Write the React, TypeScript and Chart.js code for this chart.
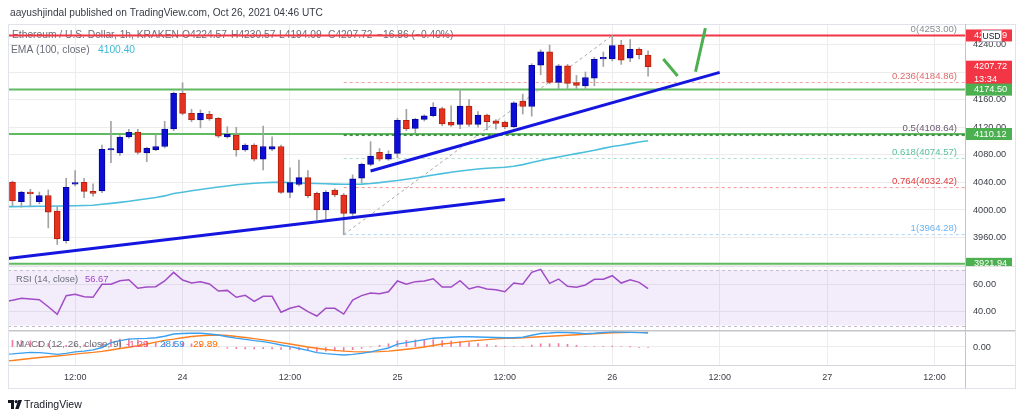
import React, { useEffect, useRef } from "react";
import { Chart, registerables } from "chart.js";

Chart.register(...registerables);

const FONT = "'Liberation Sans', Arial, Helvetica, sans-serif";
Chart.defaults.font.family = FONT;

// ---------- time axis (hours after 2021-10-23 00:00 UTC) ----------
const FIRST_CANDLE_HOUR = 5;
const FIRST_INDICATOR_HOUR = 4;
const X_MIN = 4.5;
const X_MAX = 111.4;
const TIME_TICK_STEP = 12;

// ---------- ETH/USD 1h candles ----------
const opens = [
  4040.6, 4012, 4026, 4012, 4021, 3998.5, 3955.5, 4037.5, 4040, 4027,
  4027.5, 4087, 4082.6, 4105.8, 4113, 4082.6, 4087.4, 4092, 4117.4, 4169,
  4140, 4130.4, 4138.7, 4133, 4106, 4108.7, 4087, 4094, 4073.5, 4088,
  4092, 4025.6, 4037, 4047, 4024, 4000, 4029, 4021.7, 3995, 4046,
  4066, 4083.6, 4073.5, 4082, 4130, 4118.4, 4131.4, 4136.6, 4147, 4127,
  4124, 4150.7, 4124, 4137.6, 4129.4, 4127.5, 4120.7, 4158, 4150, 4210,
  4229.4, 4185, 4209, 4184.6, 4180, 4191, 4219, 4219, 4239, 4220,
  4233, 4224.57,
];
const highs = [
  4042, 4027, 4030, 4026, 4029, 4005, 4046, 4057, 4046, 4038,
  4094, 4128.5, 4108, 4117, 4117, 4091, 4109, 4128.5, 4171, 4184.5,
  4146, 4145, 4143, 4134, 4120.7, 4120, 4096, 4096, 4121.7, 4106,
  4094, 4061, 4072.5, 4057, 4026, 4028, 4031, 4024, 4051, 4068,
  4099, 4089, 4086, 4133, 4146, 4133, 4138, 4155.5, 4149, 4151,
  4175, 4160, 4142.5, 4139, 4131, 4129, 4157, 4168, 4212, 4232,
  4239, 4211, 4211, 4195, 4200, 4221, 4229, 4253, 4246, 4247,
  4235, 4230.57,
];
const lows = [
  4006, 4004, 4006, 4009, 3974, 3950, 3952, 4035, 4018, 4020,
  4025, 4068.5, 4079, 4104, 4081, 4070, 4086, 4090, 4115, 4138,
  4128, 4119, 4130, 4105, 4104, 4078, 4085, 4071, 4058, 4086,
  4024, 4018, 4035, 4018, 3985.5, 3985.5, 4019, 3964.28, 3992, 4039,
  4064, 4071, 4072, 4076, 4115, 4112, 4129, 4135, 4122, 4121,
  4118, 4121, 4120, 4116, 4117, 4118, 4119, 4139, 4136, 4196,
  4183, 4176, 4175, 4176, 4175, 4180, 4208, 4216, 4211, 4215,
  4219, 4194.09,
];
const closes = [
  4013, 4026, 4023.6, 4021, 3997, 3958, 4033, 4038, 4027, 4024,
  4088, 4088, 4105.8, 4112.6, 4083.6, 4089.4, 4092, 4117.4, 4169, 4140,
  4130.4, 4140, 4131.9, 4107, 4109.7, 4087, 4094, 4073.5, 4092, 4092,
  4025.6, 4039.6, 4047, 4020.7, 4000, 4025.6, 4021.7, 3995, 4045, 4066,
  4078, 4073.5, 4081, 4130, 4117.4, 4131.4, 4136.6, 4148.8, 4124.6, 4123,
  4150.7, 4124, 4137.6, 4128, 4125.6, 4120.7, 4155.5, 4150, 4209.7, 4229.4,
  4185, 4209, 4183.6, 4180.4, 4192, 4218.4, 4219.5, 4238.4, 4217, 4233,
  4225, 4207.72,
];

// ---------- indicators (start one hour before first candle) ----------
const ema100 = [
  4004.7, 4004.9, 4005.1, 4005.2, 4005.4, 4005.5, 4005.7, 4005.8, 4006.1, 4006.4,
  4006.8, 4008.3, 4009.6, 4011, 4012.6, 4014.5, 4016.2, 4018, 4020.4, 4023.8,
  4025.8, 4027.8, 4029.7, 4031.6, 4033.3, 4034.8, 4036.5, 4037.7, 4038.7, 4039.4,
  4040, 4040.1, 4039.7, 4039.1, 4038.7, 4038.3, 4038, 4037.5, 4037.2, 4037.2,
  4037.5, 4038.4, 4039.6, 4041.4, 4042.7, 4044.5, 4046.4, 4048.5, 4050.7, 4052.7,
  4054.6, 4056.4, 4058, 4059.4, 4060.4, 4061.3, 4062, 4063.5, 4065.8, 4068.7,
  4071.6, 4074.5, 4076.9, 4079.4, 4081.7, 4084, 4086.5, 4089.3, 4092, 4093.9,
  4096.2, 4098.5, 4100.4,
];
const rsi14 = [
  47.2, 48.2, 49.7, 49.2, 48.7, 43.6, 38.1, 51.6, 52.6, 50.8,
  50.4, 59.8, 59.8, 62.4, 63.1, 56.9, 57.8, 58.1, 62.2, 68.4,
  62.9, 60.7, 61.7, 60, 54.9, 55.4, 50.4, 51.8, 47.5, 51.1,
  51.1, 39.6, 42.5, 44.1, 40, 36.9, 42.5, 42.5, 38.3, 48.4,
  51.6, 53.5, 53, 54.4, 62.2, 59.8, 61.7, 62.2, 63.8, 57.8,
  57.8, 62.4, 56.4, 58.1, 56.4, 55.9, 54.4, 60.7, 59.8, 68.4,
  70.6, 60.5, 63.6, 58.3, 57.6, 59.3, 63.4, 63.4, 66, 60.7,
  63.1, 61.2, 56.67,
];
const macdLine = [
  -15, -14, -12.5, -11, -11.5, -13, -15, -13, -10, -8.5,
  -6, -1, 9, 13, 16, 17, 17.5, 19, 22, 26.5,
  27.5, 28, 28, 26.5, 24.5, 21, 18, 15.5, 13, 11,
  8, 4, 0.8, -3, -7, -11.5, -13.5, -15, -16.3, -15,
  -13, -10, -6, -2, 6, 9, 12, 15, 18, 19,
  20, 21, 21, 20.5, 20, 19.5, 19, 19, 20, 24,
  27.5, 28.5, 30, 29.5, 28.5, 27, 28, 29.5, 31, 30.5,
  30, 29.3, 28.59,
];
const macdSignal = [
  -28.5, -27.5, -25.5, -23.5, -21.5, -20, -18.5, -16.5, -14.5, -12.5,
  -11, -9, -6, -3, -0.5, 2.5, 6, 10, 13.5, 16,
  19, 21.5, 23, 24, 24.5, 23.5, 21.5, 19.5, 17, 14.5,
  12, 9, 6, 3, 0, -2.5, -5, -7, -8.5, -9.5,
  -10, -10, -9.5, -8.5, -6.5, -4.5, -2.5, 0, 3, 6,
  8, 10, 12, 13.5, 15, 16.5, 17.5, 18, 19, 20,
  21, 22, 23, 24, 25, 26, 27, 28, 29, 29.5,
  29.8, 29.9, 29.89,
];
const macdHistogram = [
  13.5, 13.5, 13, 12.5, 10, 7, 3.5, 3.5, 4.5, 4,
  5, 8, 15, 16, 16.5, 14.5, 11.5, 9, 8.5, 10.5,
  8.5, 6.5, 5, 2.5, 0, -2.5, -3.5, -4, -4, -3.5,
  -4, -5, -5.2, -6, -7, -9, -8.5, -8, -7.8, -5.5,
  -3, 0, 3.5, 6.5, 12.5, 13.5, 14.5, 15, 15, 13,
  12, 11, 9, 7, 5, 3, 1.5, 1, 1, 4,
  6.5, 6.5, 7, 5.5, 3.5, 1, 1, 1.5, 2, 1,
  0.2, -0.6, -1.29,
];

// ---------- drawings ----------
const fibRatios = ["0", "0.236", "0.5", "0.618", "0.764", "1"];
const fibPrices = [4253.0, 4184.86, 4108.64, 4074.57, 4032.42, 3964.28];
const fibLineColors = ["#b0b3bb", "#f4a3a3", "#3f8f43", "#a9dfd0", "#f39191", "#a9d3f7"];
const fibTextColors = ["#8a8d96", "#e06b6b", "#6a5870", "#5cc09a", "#e23b3b", "#6db3ee"];
const FIB_START_HOUR = 42;
const FIB_END_HOUR = 72;

const greenLevels = [4174.5, 4110.12, 3921.94];
const redLevel = 4252.99;

const supportLowHours = [4.5, 60];
const supportLowPrices = [3929.7, 4015.2];
const supportHighHours = [45, 84];
const supportHighPrices = [4056.5, 4199.5];
const arrowDownHours = [77.7, 79.3];
const arrowDownPrices = [4218.8, 4194.2];
const arrowUpHours = [81.3, 82.4];
const arrowUpPrices = [4200.4, 4263.7];

const LAST_PRICE = 4207.72;
const COUNTDOWN = "13:34";

// ---------- pane value ranges ----------
const MAIN_MIN = 3918.8;
const MAIN_MAX = 4269.6;
const RSI_MIN = 26.8;
const RSI_MAX = 73;
const MACD_MIN = -38.8;
const MACD_MAX = 34.7;

// ---------- layout ----------
const W = 1024;
const PLOT_L = 8;
const PLOT_R = 965;
const AXIS_W = 50;
const FRAME_R = 1015;

const UP = "#0d0dd8";
const UP_BORDER = "#05059a";
const DOWN = "#e5321f";
const DOWN_BORDER = "#b5200f";
const GRID = "#ececec";
const AXIS_TEXT = "#3a3d46";

function timeLabel(v: number) {
  if (v % 24 === 12) return "12:00";
  return String(23 + v / 24);
}

function xScale(show: boolean) {
  return {
    type: "linear",
    min: X_MIN,
    max: X_MAX,
    offset: false,
    grid: { color: GRID, drawTicks: false, offset: false },
    border: { display: false },
    ticks: {
      display: show,
      stepSize: TIME_TICK_STEP,
      includeBounds: false,
      autoSkip: false,
      maxRotation: 0,
      padding: 6,
      color: AXIS_TEXT,
      font: { size: 9 },
      callback: (v: any) => timeLabel(Number(v)),
    },
    afterFit: (s: any) => {
      s.height = show ? 22 : 0;
      s.paddingLeft = 0;
      s.paddingRight = 0;
    },
  };
}

function yScale(min: number, max: number, step: number) {
  return {
    type: "linear",
    position: "right",
    min,
    max,
    beginAtZero: false,
    grid: { color: GRID, drawTicks: false },
    border: { display: false },
    ticks: {
      stepSize: step,
      includeBounds: false,
      padding: 8,
      color: AXIS_TEXT,
      font: { size: 9.2 },
      callback: (v: any) => Number(v).toFixed(2),
    },
    afterFit: (s: any) => {
      s.width = AXIS_W;
      s.paddingTop = 0;
      s.paddingBottom = 0;
    },
  };
}

function baseOptions(top: number, bottom: number, showX: boolean, y: any) {
  return {
    responsive: false,
    maintainAspectRatio: false,
    animation: false,
    events: [],
    layout: { padding: { left: PLOT_L, right: W - PLOT_R - AXIS_W, top, bottom } },
    plugins: { legend: { display: false }, tooltip: { enabled: false } },
    scales: { x: xScale(showX), y },
  };
}

function seg(hours: number[], values: number[], color: string, width: number, dash: number[], order: number) {
  return {
    type: "line",
    data: hours.map((h, i) => ({ x: h, y: values[i] })),
    borderColor: color,
    borderWidth: width,
    borderDash: dash,
    pointRadius: 0,
    fill: false,
    tension: 0,
    order,
  };
}

function txt(ctx: CanvasRenderingContext2D, s: string, x: number, y: number, color: string, size: number, align: CanvasTextAlign = "left") {
  ctx.font = `${size}px ${FONT}`;
  ctx.fillStyle = color;
  ctx.textAlign = align;
  ctx.textBaseline = "middle";
  ctx.fillText(s, x, y);
  return ctx.measureText(s).width;
}

function fitSize(ctx: CanvasRenderingContext2D, s: string, width: number) {
  ctx.font = `10px ${FONT}`;
  return (10 * width) / ctx.measureText(s).width;
}

function hline(ctx: CanvasRenderingContext2D, x1: number, x2: number, y: number, color: string, w = 1) {
  ctx.strokeStyle = color;
  ctx.lineWidth = w;
  ctx.setLineDash([]);
  ctx.beginPath();
  ctx.moveTo(x1, y);
  ctx.lineTo(x2, y);
  ctx.stroke();
}
function vline(ctx: CanvasRenderingContext2D, x: number, y1: number, y2: number, color: string, w = 1) {
  ctx.strokeStyle = color;
  ctx.lineWidth = w;
  ctx.setLineDash([]);
  ctx.beginPath();
  ctx.moveTo(x, y1);
  ctx.lineTo(x, y2);
  ctx.stroke();
}

function priceBox(ctx: CanvasRenderingContext2D, y: number, bg: string, lines: string[]) {
  const h = lines.length === 1 ? 12 : 25;
  const top = lines.length === 1 ? y - 6 : y - 6;
  ctx.fillStyle = bg;
  ctx.fillRect(966, top, 46, h);
  lines.forEach((l, i) => txt(ctx, l, 974, top + 6 + i * 12.5, "#ffffff", 9.2));
}

const FRAME = "#e0e3eb";
const SEP = "#c2c4cb";

const mainOverlay = {
  id: "mainOverlay",
  beforeDatasetsDraw(chart: any) {
    const ctx = chart.ctx as CanvasRenderingContext2D;
    ctx.save();
    const title = "Ethereum / U.S. Dollar, 1h, KRAKEN";
    const size = fitSize(ctx, title, 167);
    txt(ctx, title, 12, 35, "#6a6d78", size);
    txt(ctx, "O4224.57", 182, 35, "#6a6d78", size);
    txt(ctx, "H4230.57", 231, 35, "#6a6d78", size);
    txt(ctx, "L4194.09", 279, 35, "#6a6d78", size);
    txt(ctx, "C4207.72", 328, 35, "#6a6d78", size);
    txt(ctx, "\u221216.86 (\u22120.40%)", 377, 35, "#6a6d78", size);
    const emaTitle = "EMA (100, close)";
    txt(ctx, emaTitle, 11, 50, "#6a6d78", size);
    txt(ctx, ema100[ema100.length - 1].toFixed(2), 98, 50, "#3fb8d6", size);
    ctx.restore();
  },
  afterDatasetsDraw(chart: any) {
    const ctx = chart.ctx as CanvasRenderingContext2D;
    const y = chart.scales.y;
    ctx.save();
    fibPrices.forEach((p, i) => {
      txt(ctx, `${fibRatios[i]}(${p.toFixed(2)})`, 957, y.getPixelForValue(p) - 6.5, fibTextColors[i], 9.6, "right");
    });
    ctx.restore();
  },
  afterDraw(chart: any) {
    const ctx = chart.ctx as CanvasRenderingContext2D;
    const y = chart.scales.y;
    ctx.save();
    // header
    const head = "aayushjindal published on TradingView.com, Oct 26, 2021 04:46 UTC";
    txt(ctx, head, 10, 13, "#383b44", fitSize(ctx, head, 313));
    // frame
    hline(ctx, PLOT_L, FRAME_R + 0.5, 24.5, FRAME);
    vline(ctx, PLOT_L + 0.5, 24, 266, FRAME);
    vline(ctx, FRAME_R + 0.5, 24, 266, FRAME);
    vline(ctx, PLOT_R + 0.5, 24, 266, SEP);
    // price axis boxes
    priceBox(ctx, y.getPixelForValue(redLevel), "#f23645", [redLevel.toFixed(2)]);
    ctx.fillStyle = "#ffffff";
    ctx.fillRect(981, 30, 21, 12);
    ctx.strokeStyle = "#b2b5be";
    ctx.lineWidth = 1;
    ctx.strokeRect(981.5, 30.5, 20, 11);
    txt(ctx, "USD", 991.5, 36.3, "#131722", 8.6, "center");
    priceBox(ctx, y.getPixelForValue(LAST_PRICE), "#f23645", [LAST_PRICE.toFixed(2), COUNTDOWN]);
    greenLevels.forEach((g) => priceBox(ctx, y.getPixelForValue(g), "#4caf50", [g.toFixed(2)]));
    ctx.restore();
  },
};

const rsiOverlay = {
  id: "rsiOverlay",
  beforeDatasetsDraw(chart: any) {
    const ctx = chart.ctx as CanvasRenderingContext2D;
    const y = chart.scales.y;
    const a = chart.chartArea;
    const y70 = y.getPixelForValue(70);
    const y30 = y.getPixelForValue(30);
    ctx.save();
    ctx.fillStyle = "rgba(150, 80, 220, 0.11)";
    ctx.fillRect(a.left, y70, a.right - a.left, y30 - y70);
    ctx.setLineDash([3, 3]);
    ctx.strokeStyle = "#c5bccd";
    ctx.lineWidth = 1;
    [y70, y30].forEach((yy) => {
      ctx.beginPath();
      ctx.moveTo(a.left, Math.round(yy) + 0.5);
      ctx.lineTo(a.right, Math.round(yy) + 0.5);
      ctx.stroke();
    });
    ctx.restore();
  },
  afterDraw(chart: any) {
    const ctx = chart.ctx as CanvasRenderingContext2D;
    ctx.save();
    const t = "RSI (14, close)";
    const w = txt(ctx, t, 16, 13.7, "#6a6d78", 9.4);
    txt(ctx, rsi14[rsi14.length - 1].toFixed(2), 16 + w + 7, 13.7, "#a247c4", 9.4);
    hline(ctx, PLOT_L, FRAME_R, 0.5, "#e3e3e3");
    vline(ctx, PLOT_L + 0.5, 0, 64, FRAME);
    vline(ctx, FRAME_R + 0.5, 0, 64, FRAME);
    vline(ctx, PLOT_R + 0.5, 0, 64, SEP);
    ctx.restore();
  },
};

const macdOverlay = {
  id: "macdOverlay",
  afterDraw(chart: any) {
    const ctx = chart.ctx as CanvasRenderingContext2D;
    ctx.save();
    const t = "MACD (12, 26, close, 9)";
    const size = fitSize(ctx, t, 106);
    txt(ctx, t, 16, 14, "#6a6d78", size);
    txt(ctx, macdHistogram[macdHistogram.length - 1].toFixed(2), 126, 14, "#f0507a", size);
    txt(ctx, macdLine[macdLine.length - 1].toFixed(2), 160, 14, "#2196f3", size);
    txt(ctx, macdSignal[macdSignal.length - 1].toFixed(2), 193, 14, "#ff6d00", size);
    // separators and frame
    hline(ctx, PLOT_L, FRAME_R + 1, 0.5, "#c4c6cc", 2);
    hline(ctx, PLOT_L, FRAME_R + 1, 35.5, "#d4d6dc");
    hline(ctx, PLOT_L, FRAME_R + 1, 58.5, FRAME);
    vline(ctx, PLOT_L + 0.5, 0, 58.5, FRAME);
    vline(ctx, FRAME_R + 0.5, 0, 58.5, FRAME);
    vline(ctx, PLOT_R + 0.5, 0, 58.5, SEP);
    // TradingView mark
    ctx.fillStyle = "#131722";
    ctx.fillRect(8, 70, 6, 3);
    ctx.fillRect(11, 70, 3, 9);
    ctx.beginPath();
    ctx.arc(16.2, 71.6, 1.6, 0, Math.PI * 2);
    ctx.fill();
    ctx.beginPath();
    ctx.moveTo(18.3, 70);
    ctx.lineTo(22, 70);
    ctx.lineTo(18.6, 79);
    ctx.lineTo(15.2, 79);
    ctx.closePath();
    ctx.fill();
    txt(ctx, "TradingView", 24, 75, "#131722", 10.5);
    ctx.restore();
  },
};

export default function App() {
  const mainRef = useRef<HTMLCanvasElement>(null);
  const rsiRef = useRef<HTMLCanvasElement>(null);
  const macdRef = useRef<HTMLCanvasElement>(null);

  useEffect(() => {
    const candleHours = opens.map((_, i) => FIRST_CANDLE_HOUR + i);
    const indHours = ema100.map((_, i) => FIRST_INDICATOR_HOUR + i);
    const up = closes.map((c, i) => c >= opens[i]);

    const mainDatasets: any[] = [];
    greenLevels.forEach((g) => mainDatasets.push(seg([X_MIN, X_MAX], [g, g], "#5fba62", 2, [], 30)));
    fibPrices.forEach((p, i) =>
      mainDatasets.push(seg([FIB_START_HOUR, X_MAX], [p, p], fibLineColors[i], i === 2 ? 2 : 1, [3, 3], 28))
    );
    mainDatasets.push(
      seg([FIB_START_HOUR, FIB_END_HOUR], [fibPrices[5], fibPrices[0]], "#a8a8a8", 1, [3, 3], 27)
    );
    mainDatasets.push(seg([X_MIN, X_MAX], [redLevel, redLevel], "#f23645", 2, [], 26));
    mainDatasets.push({
      ...seg(indHours, ema100, "#4cbfdc", 1.6, [], 25),
    });
    mainDatasets.push({
      type: "bar",
      data: candleHours.map((h, i) => ({ x: h, y: [lows[i], highs[i]] })),
      backgroundColor: "#a3a3a3",
      barThickness: 1,
      grouped: false,
      order: 24,
    });
    mainDatasets.push({
      type: "bar",
      data: candleHours.map((h, i) => ({ x: h, y: [opens[i], closes[i]] })),
      backgroundColor: up.map((u) => (u ? UP : DOWN)),
      borderColor: up.map((u) => (u ? UP_BORDER : DOWN_BORDER)),
      borderWidth: 1,
      borderSkipped: false,
      barThickness: 6,
      minBarLength: 1.5,
      grouped: false,
      order: 23,
    });
    mainDatasets.push(seg(supportLowHours, supportLowPrices, "#1515e0", 3, [], 10));
    mainDatasets.push(seg(supportHighHours, supportHighPrices, "#1515e0", 3, [], 10));
    mainDatasets.push(seg(arrowDownHours, arrowDownPrices, "#4caf50", 3, [], 9));
    mainDatasets.push(seg(arrowUpHours, arrowUpPrices, "#4caf50", 3, [], 9));

    const main = new Chart(mainRef.current as HTMLCanvasElement, {
      type: "bar",
      data: { datasets: mainDatasets },
      options: baseOptions(24, 0, false, yScale(MAIN_MIN, MAIN_MAX, 40)) as any,
      plugins: [mainOverlay],
    } as any);

    const rsi = new Chart(rsiRef.current as HTMLCanvasElement, {
      type: "line",
      data: { datasets: [seg(indHours, rsi14, "#a04cc6", 1.5, [], 1)] },
      options: baseOptions(0, 0, false, yScale(RSI_MIN, RSI_MAX, 20)) as any,
      plugins: [rsiOverlay],
    } as any);

    const macd = new Chart(macdRef.current as HTMLCanvasElement, {
      type: "bar",
      data: {
        datasets: [
          {
            type: "bar",
            data: indHours.map((h, i) => ({ x: h, y: [0, macdHistogram[i]] })),
            backgroundColor: "#f07aa0",
            barThickness: 1,
            grouped: false,
            order: 3,
          },
          seg(indHours, macdSignal, "#ff7f1f", 1.4, [], 2),
          seg(indHours, macdLine, "#3aa0f0", 1.4, [], 1),
        ],
      },
      options: baseOptions(0, 31, true, yScale(MACD_MIN, MACD_MAX, 40)) as any,
      plugins: [macdOverlay],
    } as any);

    return () => {
      main.destroy();
      rsi.destroy();
      macd.destroy();
    };
  }, []);

  return (
    <div style={{ position: "absolute", left: 0, top: 0, width: W, height: 419, background: "#ffffff", overflow: "hidden" }}>
      <canvas ref={mainRef} width={W} height={266} style={{ position: "absolute", left: 0, top: 0 }} />
      <canvas ref={rsiRef} width={W} height={64} style={{ position: "absolute", left: 0, top: 266 }} />
      <canvas ref={macdRef} width={W} height={89} style={{ position: "absolute", left: 0, top: 330 }} />
    </div>
  );
}
